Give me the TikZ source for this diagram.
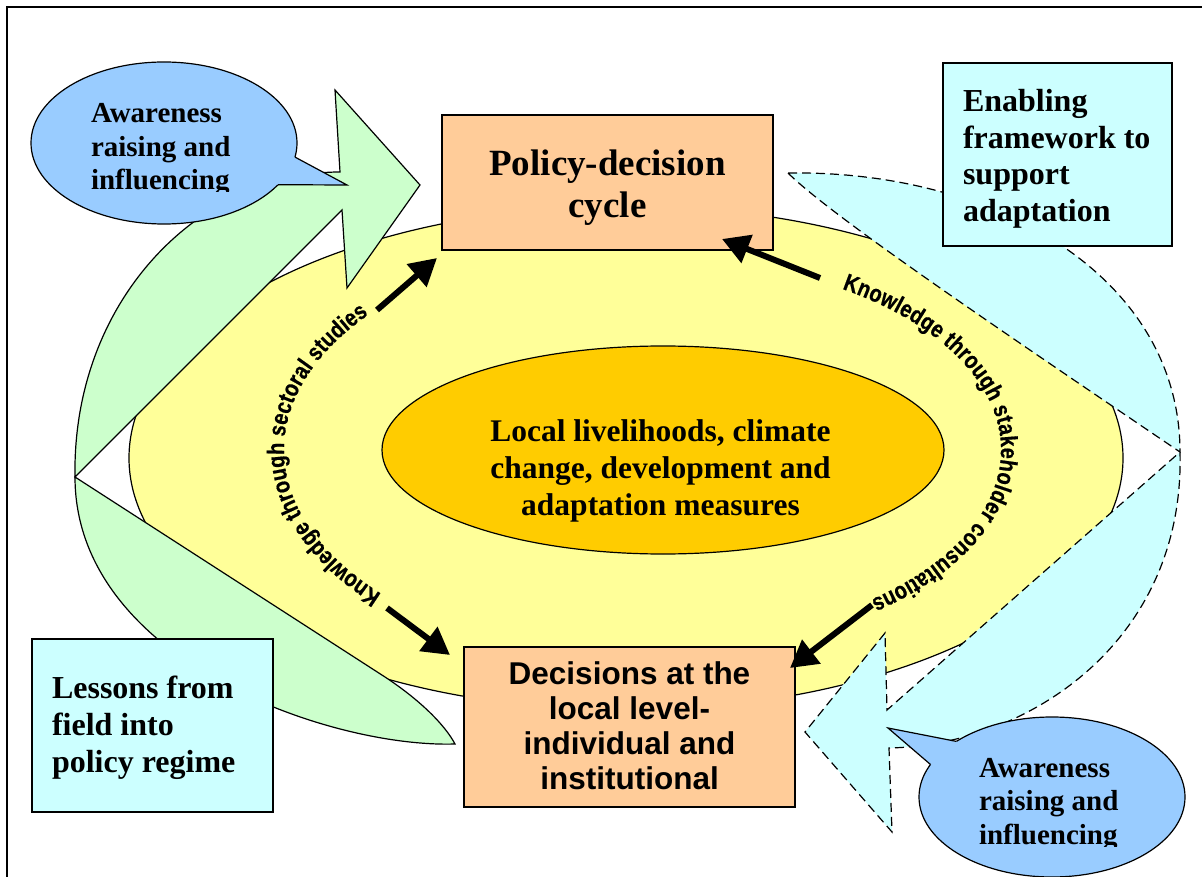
\documentclass[tikz,border=0pt]{standalone}
\usepackage{fontspec}
\setmainfont{Liberation Serif}
\newfontfamily\arialfont{Liberation Sans}
\newfontfamily\arcfont{Liberation Sans}[FakeStretch=0.83,FakeBold=0.6]
\usetikzlibrary{shapes.geometric,arrows.meta,decorations.text}
\definecolor{ringyellow}{HTML}{FFFF99}
\definecolor{coregold}{HTML}{FFCC00}
\definecolor{peach}{HTML}{FFCC99}
\definecolor{paleaqua}{HTML}{CCFFFF}
\definecolor{palegreen}{HTML}{CCFFCC}
\definecolor{skyblue}{HTML}{99CCFF}
\begin{document}
\begin{tikzpicture}[x=1pt,y=-1pt,
  outline/.style={draw=black,line width=1.2pt},
  dashline/.style={draw=black,line width=1.2pt,dash pattern=on 9pt off 5pt},
  shapebox/.style={draw=black,line width=1.5pt,inner sep=0pt,outer sep=0pt,anchor=north west},
  oval/.style={ellipse,draw=black,line width=1.2pt,inner sep=0pt,outer sep=0pt},
  txt/.style={inner sep=0pt,outer sep=0pt,text=black},
  serifA/.style={txt,font=\bfseries\fontsize{29}{33.5}\selectfont,align=left,anchor=west},
  serifB/.style={txt,font=\bfseries\fontsize{32}{36.5}\selectfont,align=left,anchor=west},
  bigarrow/.style={line width=6pt,-{Triangle[length=27pt,width=29pt]}},
  arctext/.style={decorate,decoration={text along path,text align=fit to path,text={#1}}}
]
\useasboundingbox (0,0) rectangle (1202,877);
% frame
\draw[line width=1.5pt] (1215,7) -- (7,7) -- (7,890);

% outer yellow ring
\node[oval,fill=ringyellow,minimum width=994pt,minimum height=504pt] (ring) at (626,458) {};

% green curved arrow (two pieces)
\path[outline,fill=palegreen] (75,477) .. controls (72,300) and (200,172) .. (340,172)
  -- (335,90) -- (420,185) -- (347,288) -- (342,210) -- cycle;
\path[outline,fill=palegreen] (75,477) -- (385,677) .. controls (420,700) and (445,725) .. (455,744)
  .. controls (330,748) and (75,660) .. (75,477) -- cycle;

% cyan dashed curved arrow (two pieces)
\path[dashline,fill=paleaqua] (788,173) .. controls (1000,170) and (1180,280) .. (1180,452)
  .. controls (1000,330) and (830,215) .. (788,173) -- cycle;
\path[dashline,fill=paleaqua] (1180,452) .. controls (1185,640) and (1030,745) .. (889,748)
  -- (892,832) -- (805,732) -- (885,633) -- (887,710) -- cycle;

% inner core
\node[oval,fill=coregold,minimum width=562pt,minimum height=208pt] (core) at (663,450) {};
\node[txt,font=\bfseries\fontsize{31.5}{37}\selectfont,align=center] (coretext) at (660.5,470.8)
  {Local livelihoods, climate\\change, development and\\adaptation measures};

% curved texts (start points on the same ellipses as the arcs)
\path[arctext={|\arcfont\bfseries\fontsize{24}{24}\selectfont|Knowledge through sectoral studies}]
  (381.4,593.9) arc[start angle=138,end angle=219,x radius=379,y radius=215];
\path[arctext={|\arcfont\bfseries\fontsize{24}{24}\selectfont|Knowledge through stakeholder consultations}]
  (842.1,288.9) arc[start angle=-58,end angle=52,x radius=338,y radius=190];

% boxes
\node[shapebox,fill=peach,minimum width=331pt,minimum height=135pt] (policy) at (442,115) {};
\node[txt,font=\bfseries\fontsize{37}{42}\selectfont,align=center] (policytxt) at (607.5,187.5)
  {Policy-decision\\cycle};
\node[shapebox,fill=peach,minimum width=331pt,minimum height=160pt] (decide) at (464,647) {};
\node[txt,font=\arialfont\bfseries\fontsize{31.5}{35}\selectfont,align=center] (decidetxt) at (629.5,726.2)
  {Decisions at the\\local level-\\individual and\\institutional};

% black arrows
\coordinate (s1) at (377,310); \coordinate (t1) at (437,258);
\coordinate (s2) at (820,278); \coordinate (t2) at (722,239);
\coordinate (s3) at (387,608); \coordinate (t3) at (450,655);
\coordinate (s4) at (872,605); \coordinate (t4) at (790,668);
\draw[bigarrow] (s1) -- (t1);
\draw[bigarrow] (s2) -- (t2);
\draw[bigarrow] (s3) -- (t3);
\draw[bigarrow] (s4) -- (t4);

% callout top-left
\node[oval,fill=skyblue,minimum width=266pt,minimum height=162pt] (callA) at (164,143) {};
\coordinate (pa1) at (295,157.1); \coordinate (pat) at (347,185); \coordinate (pa2) at (278,184.7);
\fill[skyblue] (callA.center) -- (pa1) -- (pat) -- (pa2) -- cycle;
\draw[line width=1.2pt] (pa1) -- (pat) -- (pa2);
\begin{scope}
\clip (0,0) rectangle (1202,192);
\node[serifA] (callAtxt) at (91,149.7) {Awareness\\raising and\\influencing};
\end{scope}

% callout bottom-right
\node[oval,fill=skyblue,minimum width=266pt,minimum height=160pt] (callB) at (1052,797) {};
\coordinate (pb1) at (930.5,764.5); \coordinate (pbt) at (888,728); \coordinate (pb2) at (956.4,741.4);
\fill[skyblue] (callB.center) -- (pb1) -- (pbt) -- (pb2) -- cycle;
\draw[line width=1.2pt] (pb1) -- (pbt) -- (pb2);
\begin{scope}
\clip (0,0) rectangle (1202,846);
\node[serifA] (callBtxt) at (979,804.2) {Awareness\\raising and\\influencing};
\end{scope}

% cyan text boxes
\node[shapebox,fill=paleaqua,minimum width=229pt,minimum height=183pt] (enable) at (943,63) {};
\node[serifB] (enabletxt) at (963,158.6) {Enabling\\framework to\\support\\adaptation};
\node[shapebox,fill=paleaqua,minimum width=241pt,minimum height=173pt] (lessons) at (32,639) {};
\node[serifB,font=\bfseries\fontsize{32}{37}\selectfont] (lessonstxt) at (52,727.6) {Lessons from\\field into\\policy regime};
\end{tikzpicture}
\end{document}
